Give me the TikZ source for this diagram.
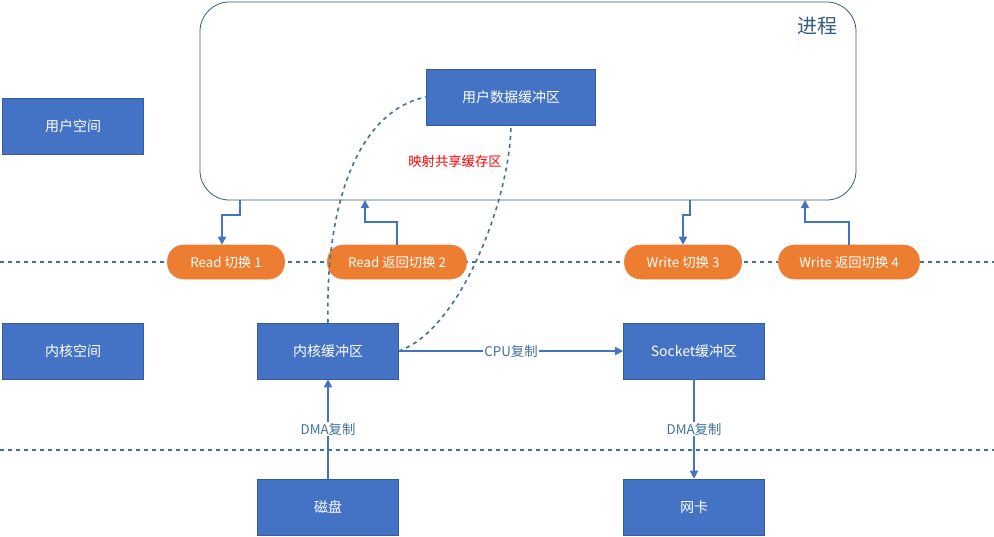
\documentclass[tikz,border=0pt]{standalone}
\usepackage{fontspec}
\setmainfont{Noto Sans CJK SC}
\usetikzlibrary{arrows.meta, positioning}
\definecolor{boxblue}{HTML}{4472C4}
\definecolor{pillorange}{HTML}{ED7D31}
\definecolor{lineblue}{HTML}{41719C}
\tikzset{
  blk/.style={fill=boxblue, draw=boxblue!80!black, text=white, minimum width=105.75pt, minimum height=42pt, font=\fontsize{10.5}{12}\selectfont},
  pill/.style={fill=pillorange, draw=pillorange, text=white, rounded corners=12pt, minimum height=25.5pt, font=\fontsize{10}{12}\selectfont},
  arr/.style={draw=boxblue, line width=1.2pt, -{Triangle[length=6pt,width=6pt]}},
  sep/.style={draw=lineblue, dashed, line width=1pt},
  lbl/.style={fill=white, text=lineblue, inner sep=1pt, font=\fontsize{10}{12}\selectfont}
}
\begin{document}
\begin{tikzpicture}[x=0.75pt, y=-0.75pt]
\useasboundingbox (0,0) rectangle (994,536);

% process frame
\draw[draw=lineblue!80!black, line width=0.6pt, rounded corners=22pt] (200,2) -- (856,2) -- (856,200) -- (200,200) -- cycle;
\node[text=lineblue!80!black, font=\fontsize{15}{18}\selectfont] (proc) at (817,26) {进程};

% separators
\draw[sep] (0,262) -- (994,262);
\draw[sep] (0,450) -- (994,450);

% boxes
\node[blk] (user) at (73,126) {用户空间};
\node[blk, minimum width=126.75pt] (ubuf) at (511,97) {用户数据缓冲区};
\node[blk] (kern) at (73,351) {内核空间};
\node[blk] (kbuf) at (328,351) {内核缓冲区};
\node[blk] (sbuf) at (694,351) {Socket缓冲区};
\node[blk] (disk) at (328,507) {磁盘};
\node[blk] (nic) at (694,507) {网卡};

% switches
\node[pill, minimum width=87.75pt] (sw1) at (226,262) {Read 切换 1};
\node[pill, minimum width=104.25pt] (sw2) at (397,262) {Read 返回切换 2};
\node[pill, minimum width=87.75pt] (sw3) at (683,262) {Write 切换 3};
\node[pill, minimum width=105.75pt] (sw4) at (849,262) {Write 返回切换 4};

% switch arrows
\coordinate (p1) at (240,200);
\coordinate (p2) at (365,200);
\coordinate (p3) at (690,200);
\coordinate (p4) at (805,200);
\draw[arr] (p1) -- ++(0,15) -| (sw1.north -| 222,0);
\draw[arr] (sw2.north) -- ++(0,-23) -| (p2);
\draw[arr] (p3) -- ++(0,15) -| (sw3.north);
\draw[arr] (sw4.north) -- ++(0,-23) -| (p4);

% copies
\draw[arr] (kbuf) -- node[lbl] {CPU复制} (sbuf);
\draw[arr] (disk) -- node[lbl] {DMA复制} (kbuf);
\draw[arr] (sbuf) -- node[lbl] {DMA复制} (nic);

% shared mapping
\draw[sep, line width=1.2pt] (kbuf.north) .. controls (325,200) and (360,110) .. (ubuf.west);
\draw[sep, line width=1.2pt] (kbuf.east) .. controls (460,330) and (510,200) .. (ubuf.south);
\node[text=red, font=\fontsize{10}{12}\selectfont] (share) at (455,161) {映射共享缓存区};
\end{tikzpicture}
\end{document}
